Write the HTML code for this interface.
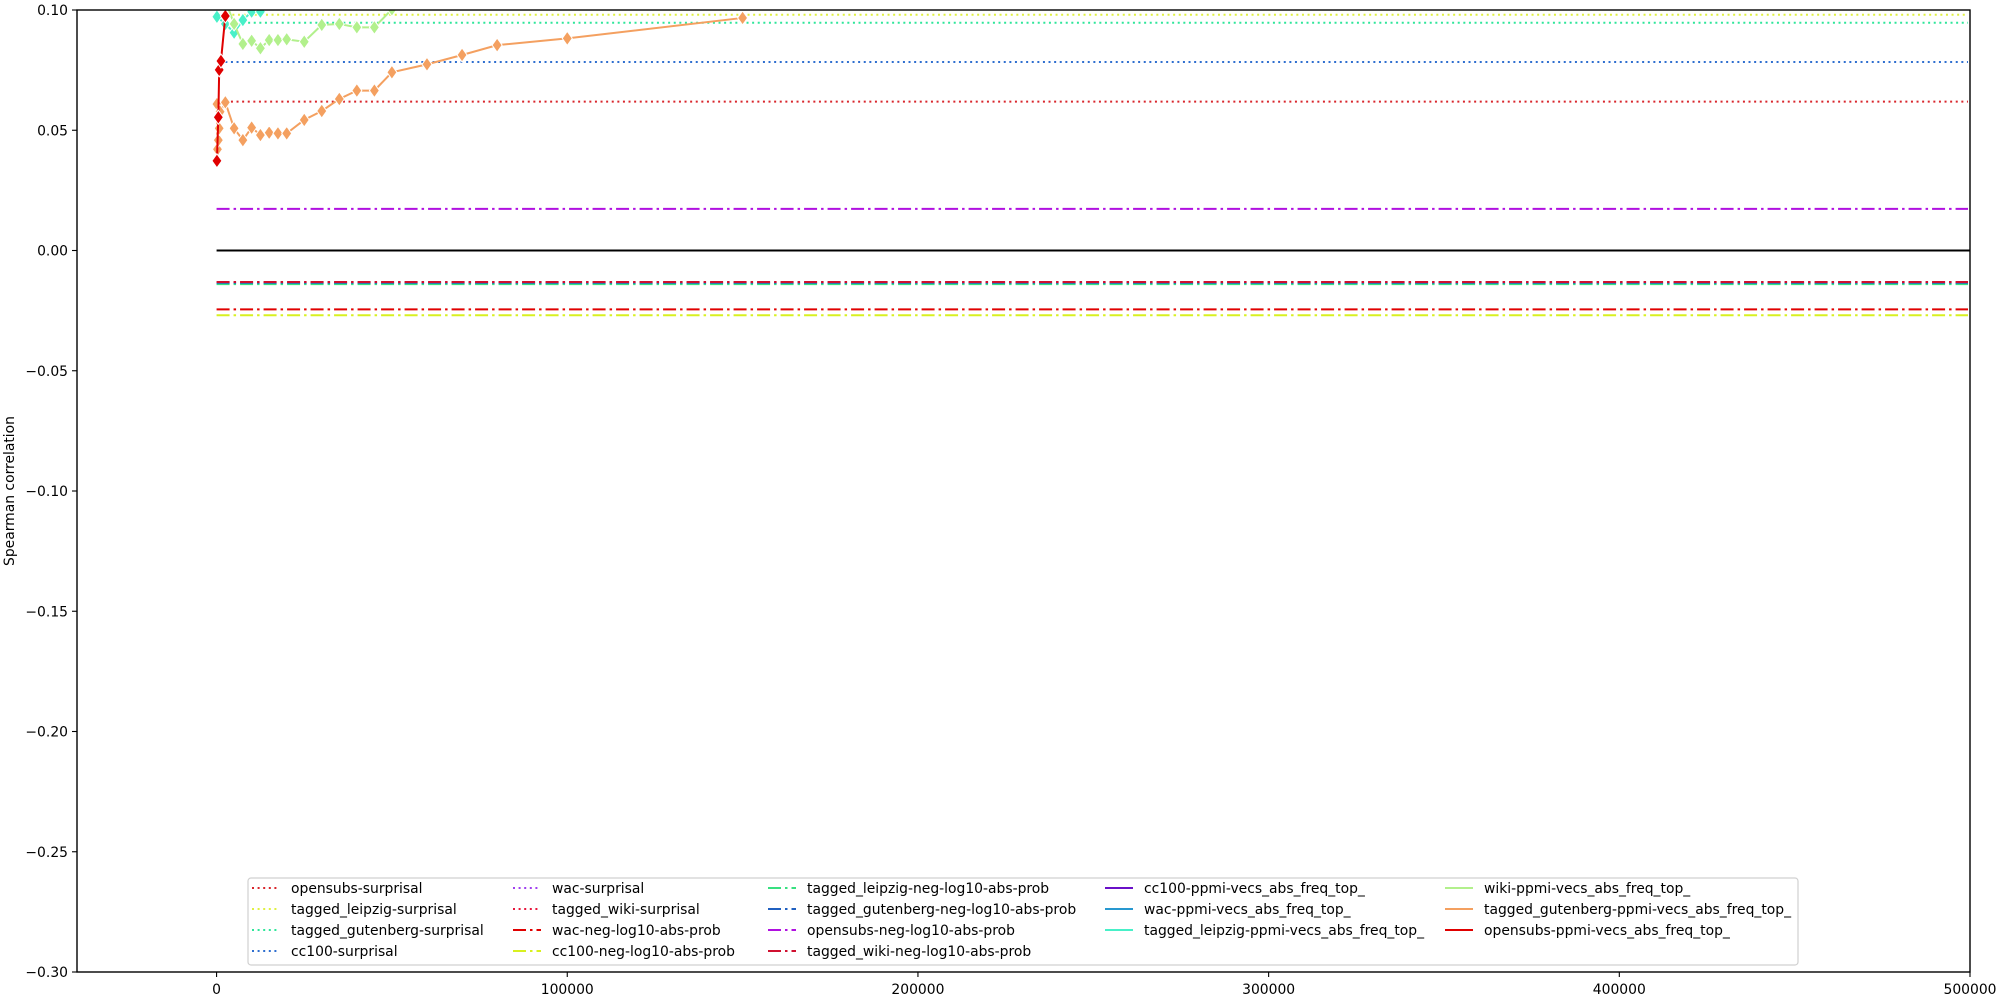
<!DOCTYPE html>
<html><head><meta charset="utf-8"><style>
html,body{margin:0;padding:0;background:#fff;}
svg{display:block;font-family:"DejaVu Sans","Liberation Sans",sans-serif;}
</style></head><body>
<svg id="chart" width="2000" height="1000" viewBox="0 0 2000 1000" xmlns="http://www.w3.org/2000/svg">
<defs><clipPath id="clip"><rect x="77" y="10" width="1893" height="962"/></clipPath></defs>
<rect x="0" y="0" width="2000" height="1000" fill="#fff"/>
<g id="plot" clip-path="url(#clip)"></g>
<g id="axes"></g>
<g id="legend"></g>
</svg>
<script>
// ---- data ----
const xTicks = [0, 100000, 200000, 300000, 400000, 500000];
const yTicks = [0.10, 0.05, 0.00, -0.05, -0.10, -0.15, -0.20, -0.25, -0.30];
const yTickLabels = ["0.10","0.05","0.00","\u22120.05","\u22120.10","\u22120.15","\u22120.20","\u22120.25","\u22120.30"];
const hlineNames = ["opensubs-surprisal","tagged_leipzig-surprisal","tagged_gutenberg-surprisal","cc100-surprisal","wac-surprisal","tagged_wiki-surprisal","wac-neg-log10-abs-prob","cc100-neg-log10-abs-prob","tagged_leipzig-neg-log10-abs-prob","tagged_gutenberg-neg-log10-abs-prob","opensubs-neg-log10-abs-prob","tagged_wiki-neg-log10-abs-prob"];
const hlineValues = [0.0619, 0.0980, 0.0947, 0.0784, 0.115, 0.125, -0.0245, -0.0269, -0.0140, -0.0134, 0.0173, -0.0131];
const hlineColors = ["#d9262c","#e0f040","#2ee69a","#2f6fd0","#a040f0","#e8163c","#e00000","#d8f020","#38e080","#2060c0","#b010e0","#d01030"];
const hlineStyles = ["dot","dot","dot","dot","dot","dot","dashdot","dashdot","dashdot","dashdot","dashdot","dashdot"];
const hlineStart = [2500, 4500, 9000, 2500, 0, 0, 0, 0, 0, 0, 0, 0];
const ppmiNames = ["cc100-ppmi-vecs_abs_freq_top_","wac-ppmi-vecs_abs_freq_top_","tagged_leipzig-ppmi-vecs_abs_freq_top_","wiki-ppmi-vecs_abs_freq_top_","tagged_gutenberg-ppmi-vecs_abs_freq_top_","opensubs-ppmi-vecs_abs_freq_top_"];
const ppmiColors = ["#6a10c8","#2898d0","#48f0c8","#b2f08c","#f4a060","#e00000"];
const cc100X = [100, 5000];
const cc100Y = [0.12, 0.13];
const wacX = [100, 5000];
const wacY = [0.115, 0.125];
const leipzigX = [100, 2500, 5000, 7500, 10000, 12500, 15000];
const leipzigY = [0.0972, 0.0942, 0.0906, 0.0958, 0.0993, 0.0993, 0.103];
const wikiX = [2500, 5000, 7500, 10000, 12500, 15000, 17500, 20000, 25000, 30000, 35000, 40000, 45000, 50000, 60000];
const wikiY = [0.104, 0.0942, 0.0859, 0.0872, 0.0841, 0.0875, 0.0875, 0.0878, 0.0868, 0.0938, 0.0942, 0.0928, 0.0928, 0.1003, 0.104];
const gutX = [100, 250, 500, 750, 1000, 2500, 5000, 7500, 10000, 12500, 15000, 17500, 20000, 25000, 30000, 35000, 40000, 45000, 50000, 60000, 70000, 80000, 100000, 150000];
const gutY = [0.0609, 0.0421, 0.0459, 0.0508, 0.0577, 0.0616, 0.0508, 0.0459, 0.0511, 0.0480, 0.0490, 0.0487, 0.0487, 0.0543, 0.0580, 0.0630, 0.0665, 0.0665, 0.0741, 0.0774, 0.0813, 0.0854, 0.0882, 0.0967];
const osX = [100, 500, 750, 1250, 2500];
const osY = [0.0373, 0.0554, 0.0751, 0.0788, 0.0975];

// ---- scales ----
const X0 = 77, X1 = 1970, Y0 = 10, Y1 = 972;
const xMin = -39800, xMax = 500000, yMin = -0.30, yMax = 0.10;
const sx = v => X0 + (v - xMin) / (xMax - xMin) * (X1 - X0);
const sy = v => Y0 + (yMax - v) / (yMax - yMin) * (Y1 - Y0);
const NS = "http://www.w3.org/2000/svg";
function mk(tag, attrs, parent) {
  const e = document.createElementNS(NS, tag);
  for (const k in attrs) e.setAttribute(k, attrs[k]);
  parent.appendChild(e); return e;
}
const dashes = {dot: "2,3.6", dashdot: "13,4,2.5,4", solid: ""};
const plot = document.getElementById("plot");
const axes = document.getElementById("axes");
const legend = document.getElementById("legend");

const zl = mk("line", {x1: sx(0), x2: sx(xMax), y1: sy(0), y2: sy(0), stroke: "#000", "stroke-width": 2}, plot);



hlineNames.forEach((n, i) => {
  const l = mk("line", {x1: sx(hlineStart[i]), x2: sx(xMax) - 2, y1: sy(hlineValues[i]), y2: sy(hlineValues[i]), stroke: hlineColors[i], "stroke-width": 2, "stroke-dasharray": dashes[hlineStyles[i]]}, plot);
  
  
});

const seriesX = [cc100X, wacX, leipzigX, wikiX, gutX, osX];
const seriesY = [cc100Y, wacY, leipzigY, wikiY, gutY, osY];
seriesX.forEach((xs, si) => {
  const g = mk("g", {}, plot);
  
  
  const pts = xs.map((x, j) => sx(x) + "," + sy(seriesY[si][j])).join(" ");
  mk("polyline", {points: pts, fill: "none", stroke: ppmiColors[si], "stroke-width": 2}, g);
  xs.forEach((x, j) => {
    const cx = sx(x), cy = sy(seriesY[si][j]);
    const d = mk("path", {d: `M${cx},${cy-7} L${cx+5},${cy} L${cx},${cy+7} L${cx-5},${cy} Z`, fill: ppmiColors[si], stroke: "#fff", "stroke-width": 1}, g);
    
    
  });
});

const fr = mk("rect", {x: X0, y: Y0, width: X1 - X0, height: Y1 - Y0, fill: "none", stroke: "#000", "stroke-width": 1.4}, axes);


xTicks.forEach(t => {
  const x = sx(t);
  mk("line", {x1: x, x2: x, y1: Y1, y2: Y1 + 5, stroke: "#000", "stroke-width": 1.1}, axes);
  const tx = mk("text", {x: x, y: Y1 + 22, "font-size": 13.9, "text-anchor": "middle", fill: "#000"}, axes);
  tx.textContent = String(t);
  
  
});
yTicks.forEach((t, i) => {
  const y = sy(t);
  mk("line", {x1: X0 - 5, x2: X0, y1: y, y2: y, stroke: "#000", "stroke-width": 1.1}, axes);
  const tx = mk("text", {x: X0 - 9, y: y + 5, "font-size": 13.9, "text-anchor": "end", fill: "#000"}, axes);
  tx.textContent = yTickLabels[i];
  
  
});
const yl = mk("text", {x: 0, y: 0, "font-size": 13.9, "text-anchor": "middle", fill: "#000", transform: `translate(14,${(Y0+Y1)/2}) rotate(-90)`}, axes);
yl.textContent = "Spearman correlation";



// legend: columns of 4,4,4,3,3
const lb = mk("rect", {x: 248, y: 878, width: 1550, height: 87, rx: 3, fill: "#fff", "fill-opacity": 0.8, stroke: "#d0d0d0", "stroke-width": 1.2}, legend);


const colX = [252, 513, 768, 1105, 1445];
const colSizes = [4, 4, 4, 3, 3];
const rowY = [888, 909, 930, 951];
const entries = [];
hlineNames.forEach((n, i) => entries.push({n, c: hlineColors[i], s: hlineStyles[i]}));
ppmiNames.forEach((n, i) => entries.push({n, c: ppmiColors[i], s: "solid"}));
let idx = 0;
colSizes.forEach((sz, col) => {
  for (let row = 0; row < sz; row++, idx++) {
    const e = entries[idx];
    const x = colX[col], y = rowY[row];
    const g = mk("g", {}, legend);
    
    
    mk("line", {x1: x, x2: x + 28, y1: y, y2: y, stroke: e.c, "stroke-width": 2, "stroke-dasharray": dashes[e.s]}, g);
    const t = mk("text", {x: x + 39, y: y + 5, "font-size": 13.9, fill: "#000"}, g);
    t.textContent = e.n;
  }
});
</script>
</body></html>
